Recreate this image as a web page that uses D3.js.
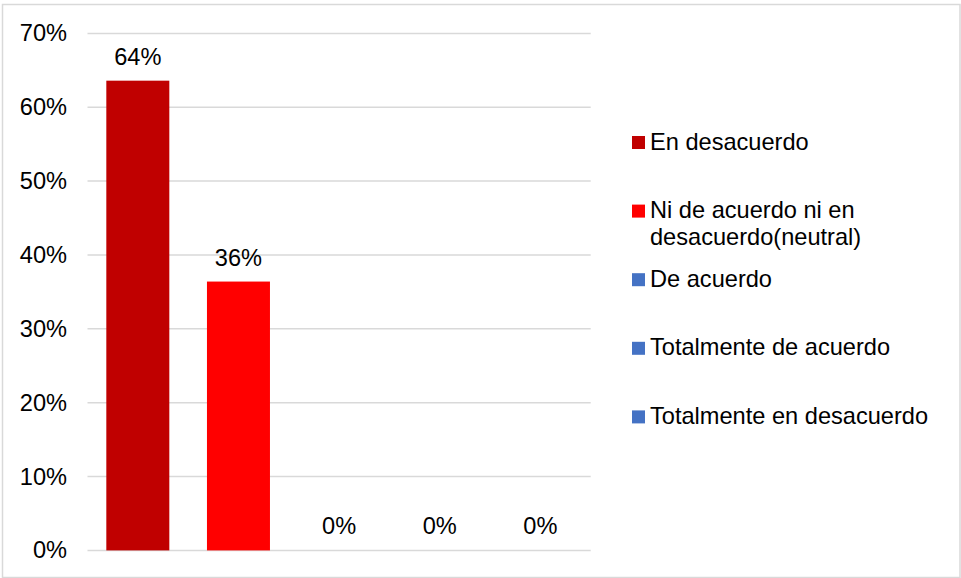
<!DOCTYPE html>
<html>
<head>
<meta charset="utf-8">
<script src="https://cdn.jsdelivr.net/npm/d3@7"></script>
<style>
  html, body { margin: 0; padding: 0; background: #fff; }
  svg { display: block; }
  text { font-family: "Liberation Sans", Arial, sans-serif; fill: #000; }
</style>
</head>
<body>
<svg id="chart" width="961" height="578"></svg>
<script>
// ---- data ----
const categories = [
  "En desacuerdo",
  "Ni de acuerdo ni en desacuerdo(neutral)",
  "De acuerdo",
  "Totalmente de acuerdo",
  "Totalmente en desacuerdo"
];
const legendLines = [
  ["En desacuerdo"],
  ["Ni de acuerdo ni en", "desacuerdo(neutral)"],
  ["De acuerdo"],
  ["Totalmente de acuerdo"],
  ["Totalmente en desacuerdo"]
];
const values = [0.636, 0.364, 0, 0, 0];
const colors = ["#C00000", "#FF0000", "#4472C4", "#4472C4", "#4472C4"];
const yTicks = [0, 0.1, 0.2, 0.3, 0.4, 0.5, 0.6, 0.7];

// ---- layout ----
const W = 961, H = 578;
const plot = { left: 87.5, right: 590.7, top: 33.4, bottom: 550.4 };
const fs = 23.6;

const svg = d3.select("#chart");

// outer border
svg.append("rect")
  .attr("x", 2.5).attr("y", 4.5)
  .attr("width", 957.5).attr("height", 573)
  .attr("fill", "#fff")
  .attr("stroke", "#D9D9D9").attr("stroke-width", 1.5);

const x = d3.scaleBand()
  .domain(categories)
  .range([plot.left, plot.right])
  .paddingInner(0.374).paddingOuter(0.187);

const y = d3.scaleLinear()
  .domain([0, 0.7])
  .range([plot.bottom, plot.top]);

// gridlines
svg.append("g")
  .selectAll("line")
  .data(yTicks)
  .join("line")
  .attr("x1", plot.left).attr("x2", plot.right)
  .attr("y1", d => y(d)).attr("y2", d => y(d))
  .attr("stroke", "#D9D9D9").attr("stroke-width", 1.5);

// y axis labels
const yAxis = d3.axisLeft(y)
  .tickValues(yTicks)
  .tickFormat(d3.format(".0%"))
  .tickSize(0)
  .tickPadding(20.5);
const gy = svg.append("g")
  .attr("transform", `translate(${plot.left},0)`)
  .call(yAxis);
gy.select(".domain").remove();
gy.selectAll("text")
  .attr("font-size", fs)
  .attr("font-family", '"Liberation Sans", Arial, sans-serif')
  .attr("fill", "#000");

// bars
svg.append("g")
  .selectAll("rect")
  .data(values)
  .join("rect")
  .attr("x", (d, i) => x(categories[i]))
  .attr("width", x.bandwidth())
  .attr("y", d => y(d))
  .attr("height", d => y(0) - y(d))
  .attr("fill", (d, i) => colors[i]);

// data labels
svg.append("g")
  .selectAll("text")
  .data(values)
  .join("text")
  .attr("x", (d, i) => x(categories[i]) + x.bandwidth() / 2)
  .attr("y", d => y(d) - 16)
  .attr("text-anchor", "middle")
  .attr("font-size", fs)
  .text(d => d3.format(".0%")(d));

// legend
const legend = svg.append("g");
const legendTop = 142.5, legendStep = 68.6;
const item = legend.selectAll("g")
  .data(legendLines)
  .join("g")
  .attr("transform", (d, i) => `translate(632,${legendTop + i * legendStep})`);
item.append("rect")
  .attr("x", 0).attr("y", -6.5)
  .attr("width", 13).attr("height", 13)
  .attr("fill", (d, i) => colors[i]);
item.append("text")
  .attr("x", 18)
  .attr("y", 7)
  .attr("font-size", fs)
  .selectAll("tspan")
  .data(d => d)
  .join("tspan")
  .attr("x", 18)
  .attr("dy", (d, j) => j === 0 ? 0 : 27)
  .text(d => d);
</script>
</body>
</html>
